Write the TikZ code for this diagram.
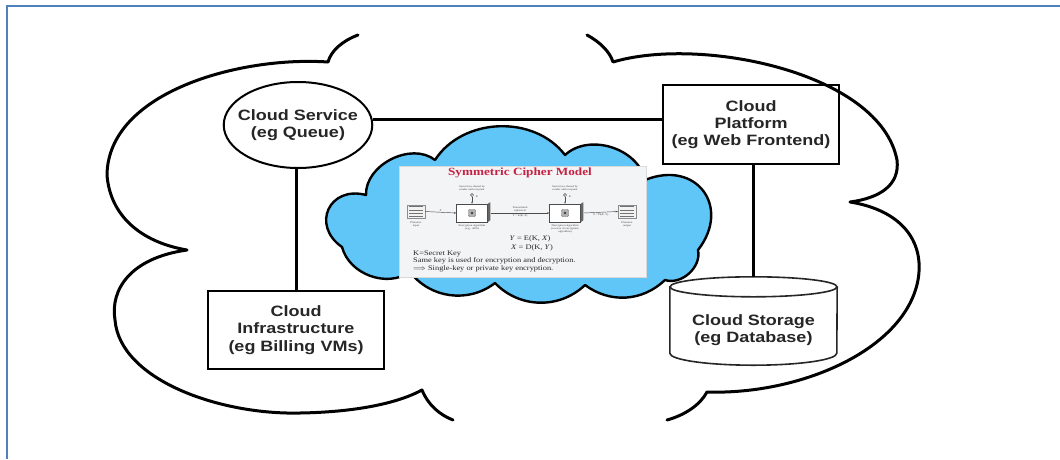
\documentclass[tikz,border=0pt]{standalone}
\usepackage{fontspec}
\usetikzlibrary{shapes.geometric,arrows.meta}
\newfontfamily\labfont{Liberation Sans}[FakeStretch=1.2]
\newfontfamily\serfont{Liberation Serif}[FakeStretch=1.2]
\definecolor{frameblue}{RGB}{79,129,189}
\definecolor{skyfill}{RGB}{96,198,248}
\definecolor{cipherred}{RGB}{196,34,68}
\definecolor{panelgray}{RGB}{243,244,246}
\tikzset{
  lab/.style={font=\labfont\bfseries\fontsize{15}{17.3}\selectfont, align=center, text=black!85},
  nodebox/.style={draw, line width=2pt, lab, inner sep=0pt},
  conn/.style={line width=3pt},
  cloudline/.style={line width=3pt, line cap=round, line join=round},
  lobe/.style args={#1/#2}{out=#1, in=180-#1, relative, looseness=#2},
  tinytext/.style={font=\serfont\fontsize{2.6}{3}\selectfont, align=center, inner sep=0pt, text=black!75},
  smalltext/.style={font=\serfont\fontsize{7}{8}\selectfont, inner sep=0pt, text=black!85},
  flow/.style={line width=0.45pt, -{Stealth[length=2.2pt,width=1.8pt]}, black!70},
  docicon/.style={draw=black!45, fill=black!5, line width=0.4pt, minimum width=18pt, minimum height=13pt, inner sep=0pt},
  algbox/.style={draw=black!70, fill=white, line width=0.5pt, minimum width=31pt, minimum height=18pt, inner sep=0pt},
}
\begin{document}
\begin{tikzpicture}[x=1pt,y=-1pt]
\useasboundingbox (0,0) rectangle (1060,459);
\fill[white] (0,0) rectangle (1060,459);
% frame
\draw[frameblue, line width=2.4pt] (7.2,459) -- (7.2,5.7) -- (1060,5.7);

% outer cloud (two open halves)
\draw[cloudline] (358,35) .. controls (342,41) and (331,51) .. (328,62)
  .. controls (240,56) and (108,92) .. (107,175)
  .. controls (110,215) and (140,242) .. (187,250)
  .. controls (130,258) and (110,290) .. (115,320)
  .. controls (120,380) and (220,415) .. (300,413)
  .. controls (360,412) and (400,402) .. (422,390)
  .. controls (428,405) and (440,415) .. (453,420);
\draw[cloudline] (587,35) .. controls (600,42) and (610,52) .. (613,62)
  .. controls (700,36) and (880,72) .. (897,160)
  .. controls (900,185) and (880,198) .. (850,202)
  .. controls (900,210) and (925,240) .. (918,280)
  .. controls (905,350) and (800,395) .. (707,392)
  .. controls (700,405) and (685,415) .. (667,420);

% blue cloud
\draw[line width=2.4pt, fill=skyfill, line join=round] (342,247)
  to[lobe=80/1.7] (366,195)
  to[lobe=65/1] (435,160)
  to[lobe=55/1] (565,155)
  to[lobe=60/1] (645,180)
  to[lobe=75/1.6] (698,250)
  to[lobe=60/1] (665,280)
  to[lobe=40/1] (585,285)
  to[lobe=45/1] (495,283)
  to[lobe=45/1] (410,272)
  to[lobe=55/1] cycle;

% panel with cipher model
\node[draw=black!15, fill=panelgray, line width=1pt, minimum width=247pt, minimum height=111pt, inner sep=0pt, anchor=north west] (panel) at (399,166) {};
\node[font=\serfont\bfseries\fontsize{11}{12}\selectfont, text=cipherred, inner sep=0pt] (title) at (520,173) {Symmetric Cipher Model};

\node[docicon] (pin) at (416,211.5) {};
\node[docicon] (pout) at (627,211.5) {};
\foreach \yy in {206.5,209.8,213.1,216.4}{
  \draw[black!55, line width=0.6pt] (409,\yy) -- (423,\yy);
  \draw[black!55, line width=0.6pt] (620,\yy) -- (634,\yy);
}
\node[algbox] (enc) at (472,213) {};
\node[algbox] (dec) at (565,213) {};
\fill[black!60] (enc.north east) -- ++(2.5,-1.5) -- ++(0,18) -- (enc.south east) -- cycle;
\fill[black!60] (dec.north east) -- ++(2.5,-1.5) -- ++(0,18) -- (dec.south east) -- cycle;
\node[fill=black!30, draw=black!60, line width=0.4pt, rounded corners=1pt, minimum size=7pt, inner sep=0pt] (encicon) at (enc) {};
\node[fill=black!30, draw=black!60, line width=0.4pt, rounded corners=1pt, minimum size=7pt, inner sep=0pt] (decicon) at (dec) {};
\fill[black!75] (encicon.center) circle (1.3pt);
\fill[black!75] (decicon.center) circle (1.3pt);

\node[tinytext] (keytxt1) at (472,188.5) {Secret key shared by\\sender and recipient};
\node[tinytext] (keytxt2) at (565,188.5) {Secret key shared by\\sender and recipient};
\node[draw=black!70, circle, line width=0.5pt, minimum size=3.2pt, inner sep=0pt] (key1) at (472,195) {};
\node[draw=black!70, circle, line width=0.5pt, minimum size=3.2pt, inner sep=0pt] (key2) at (565,195) {};
\draw[flow] (key1.south) -- (enc.north);
\draw[flow] (key2.south) -- (dec.north);
\node[tinytext] at (477,197) {\textit{K}};
\node[tinytext] at (570,197) {\textit{K}};

\draw[flow] (pin.east) -- node[tinytext, above=0.8pt] {\textit{X}} (enc.west);
\draw[flow] ([xshift=3pt]enc.east) -- node[tinytext, above=1pt] {Transmitted\\ciphertext} node[tinytext, below=1.2pt] {\textit{Y} = E(\textit{K}, \textit{X})} (dec.west);
\draw[flow] ([xshift=3pt]dec.east) -- node[tinytext, below=1.2pt] {\textit{X} = D(\textit{K}, \textit{Y})} (pout.west);

\node[tinytext] at (416,224) {Plaintext\\input};
\node[tinytext] at (627,224) {Plaintext\\output};
\node[tinytext] at (472,227.5) {Encryption algorithm\\(e.g., AES)};
\node[tinytext] at (565,229) {Decryption algorithm\\(reverse of encryption\\algorithm)};

\node[smalltext] (eq1) at (530,239) {\textit{Y} = E(K, \textit{X})};
\node[smalltext] (eq2) at (532,247.5) {\textit{X} = D(K, \textit{Y})};
\node[smalltext, anchor=west] (kline) at (413,253.5) {K=Secret Key};
\node[smalltext, anchor=west] (sline) at (413,261) {Same key is used for encryption and decryption.};
\node[smalltext, anchor=west] (pline) at (413,268.5) {$\Longrightarrow$ Single-key or private key encryption.};

% main nodes
\node[nodebox, ellipse, inner xsep=-7.5pt, inner ysep=0pt, minimum width=148pt, minimum height=86pt] (cs) at (298,125) {Cloud Service\\(eg Queue)};
\node[nodebox, minimum width=176pt, minimum height=79pt] (cp) at (751,124.5) {Cloud\\Platform\\(eg Web Frontend)};
\node[nodebox, minimum width=176pt, minimum height=78pt] (ci) at (296,330) {Cloud\\Infrastructure\\(eg Billing VMs)};
\node[minimum width=167pt, minimum height=88pt, inner sep=0pt] (db) at (753.5,321) {};
\draw[line width=1.6pt, black!85, fill=white] ([yshift=-10pt]db.north west) -- ([yshift=12pt]db.south west)
  arc[start angle=180, end angle=360, x radius=83.5pt, y radius=12pt] -- ([yshift=-10pt]db.north east);
\draw[line width=1.6pt, black!85, fill=white] ([yshift=-10pt]db.north) ellipse [x radius=83.5pt, y radius=10pt];
\node[lab] (dblabel) at ([yshift=-9pt]db.center) {Cloud Storage\\(eg Database)};

% connectors
\draw[conn] (cs.4) -- (cs.4 -| cp.west);
\draw[conn] (ci.north) -- (ci.north |- cs.south);
\draw[conn] (db.north |- cp.south) -- (db.north);
\end{tikzpicture}
\end{document}
